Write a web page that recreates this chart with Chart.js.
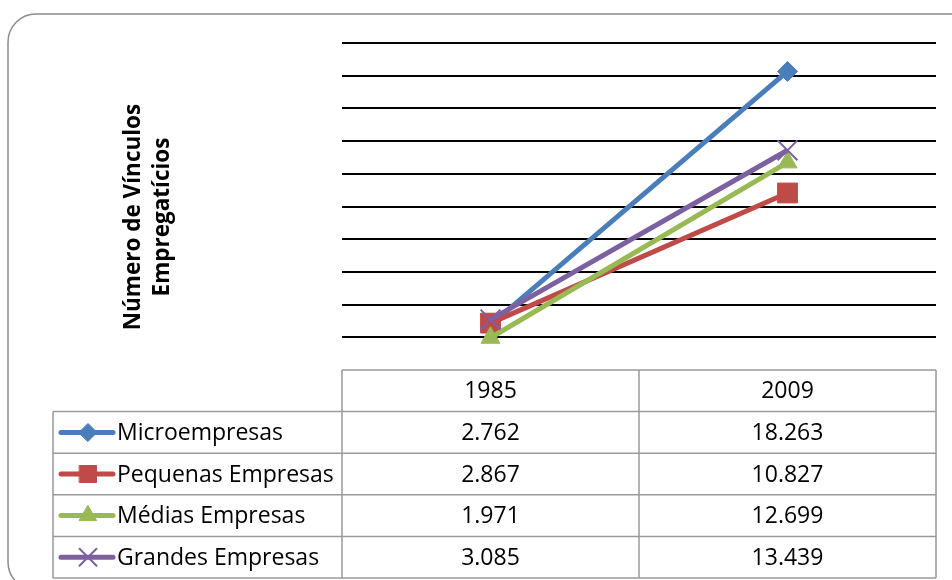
<!DOCTYPE html>
<html>
<head>
<meta charset="utf-8">
<script src="https://cdn.jsdelivr.net/npm/chart.js@4.4.1/dist/chart.umd.min.js"></script>
<style>
  body { margin: 0; background: #fff; }
  #wrap { width: 952px; height: 580px; }
</style>
</head>
<body>
<div id="wrap"><canvas id="lineChart" width="952" height="580"></canvas></div>
<script>
// anos (colunas da tabela)
const anos = ['1985', '2009'];

// séries, em milhares de vínculos
const micro = [2.762, 18.263];
const pequenas = [2.867, 10.827];
const medias = [1.971, 12.699];
const grandes = [3.085, 13.439];

const nomes = ['Microempresas', 'Pequenas Empresas', 'Médias Empresas', 'Grandes Empresas'];
const cores = ['#4A7EBB', '#BE4B48', '#98B954', '#7D60A0'];
const tituloY = ['Número de Vínculos', 'Empregatícios'];

const fonte = '"Open Sans", sans-serif';

// três casas decimais, ponto como separador de milhar
function fmt(v) {
  return v.toFixed(3);
}

// moldura arredondada em volta do gráfico
const moldura = {
  id: 'moldura',
  beforeDraw(chart) {
    const c = chart.ctx;
    c.save();
    c.strokeStyle = '#8c8c8c';
    c.lineWidth = 1.5;
    c.beginPath();
    c.roundRect(8, 14, 990, 576, 28);
    c.stroke();
    c.restore();
  }
};

// tabela de dados com legenda + título do eixo Y
const tabela = {
  id: 'tabela',
  afterDraw(chart) {
    const c = chart.ctx;
    const area = chart.chartArea;
    const x = chart.scales.x;
    const left = 53;
    const top = area.bottom;
    const rowH = 41.6;
    const bottom = top + rowH * 5;

    c.save();
    c.strokeStyle = '#9a9a9a';
    c.lineWidth = 1.5;
    c.beginPath();
    // cabeçalho
    c.moveTo(area.left, top); c.lineTo(area.right, top);
    // linhas das séries
    for (let i = 1; i <= 5; i++) {
      c.moveTo(left, top + rowH * i); c.lineTo(area.right, top + rowH * i);
    }
    c.moveTo(left, top + rowH); c.lineTo(left, bottom);
    c.moveTo(area.left, top); c.lineTo(area.left, bottom);
    const meio = (x.getPixelForValue(0) + x.getPixelForValue(1)) / 2;
    c.moveTo(meio, top); c.lineTo(meio, bottom);
    c.moveTo(area.right, top); c.lineTo(area.right, bottom);
    c.stroke();

    c.fillStyle = '#000';
    c.font = '23px ' + fonte;
    c.textAlign = 'center';
    c.textBaseline = 'middle';
    anos.forEach((a, i) => c.fillText(a, x.getPixelForValue(i), top + rowH / 2 + 1));

    chart.data.datasets.forEach((ds, r) => {
      const cy = top + rowH * (r + 1) + rowH / 2;
      c.fillStyle = '#000';
      c.textAlign = 'center';
      ds.data.forEach((v, i) => c.fillText(fmt(v), x.getPixelForValue(i), cy + 1));

      // amostra da legenda
      c.strokeStyle = ds.borderColor;
      c.lineWidth = 5;
      c.lineCap = 'round';
      c.beginPath();
      c.moveTo(61, cy); c.lineTo(113, cy);
      c.stroke();
      c.fillStyle = ds.backgroundColor;
      c.lineWidth = ds.pointBorderWidth;
      Chart.helpers.drawPoint(c, {
        pointStyle: ds.pointStyle,
        radius: ds.legendRadius,
        borderWidth: ds.pointBorderWidth,
        rotation: 0
      }, 88, cy);
      c.fillStyle = '#000';
      c.textAlign = 'left';
      c.fillText(ds.label, 117, cy + 1);
    });

    // título do eixo Y
    c.save();
    c.translate(148, 217);
    c.rotate(-Math.PI / 2);
    c.font = 'bold 22.5px ' + fonte;
    c.textAlign = 'center';
    c.fillText(tituloY[0], 0, -14);
    c.fillText(tituloY[1], 0, 15);
    c.restore();
    c.restore();
  }
};

// order: a última série fica por cima das anteriores
function serie(label, data, cor, estilo, raio, legRaio, bw, ordem) {
  return {
    label: label,
    data: data,
    borderColor: cor,
    backgroundColor: cor,
    pointBackgroundColor: cor,
    pointBorderColor: cor,
    borderWidth: 5,
    pointStyle: estilo,
    pointRadius: raio,
    pointBorderWidth: bw,
    legendRadius: legRaio,
    order: ordem,
    tension: 0
  };
}

const ctx = document.getElementById('lineChart').getContext('2d');

new Chart(ctx, {
  type: 'line',
  data: {
    labels: anos,
    datasets: [
      serie(nomes[0], micro, cores[0], 'rectRot', 10, 9, 1, 3),
      serie(nomes[1], pequenas, cores[1], 'rect', 14, 12, 1, 2),
      serie(nomes[2], medias, cores[2], 'triangle', 11, 10, 1, 1),
      serie(nomes[3], grandes, cores[3], 'crossRot', 14, 12, 2, 0)
    ]
  },
  options: {
    responsive: false,
    animation: false,
    layout: { padding: { left: 342, right: 13, top: 43, bottom: 210 } },
    plugins: {
      legend: { display: false },
      tooltip: { enabled: false }
    },
    scales: {
      x: {
        display: false,
        offset: true
      },
      y: {
        min: 0,
        max: 20,
        ticks: { display: false, stepSize: 2 },
        border: { display: false },
        grid: {
          drawTicks: false,
          lineWidth: 2,
          color: c => c.tick && c.tick.value === 0 ? 'rgba(0,0,0,0)' : '#000'
        }
      }
    }
  },
  plugins: [moldura, tabela]
});
</script>
</body>
</html>
